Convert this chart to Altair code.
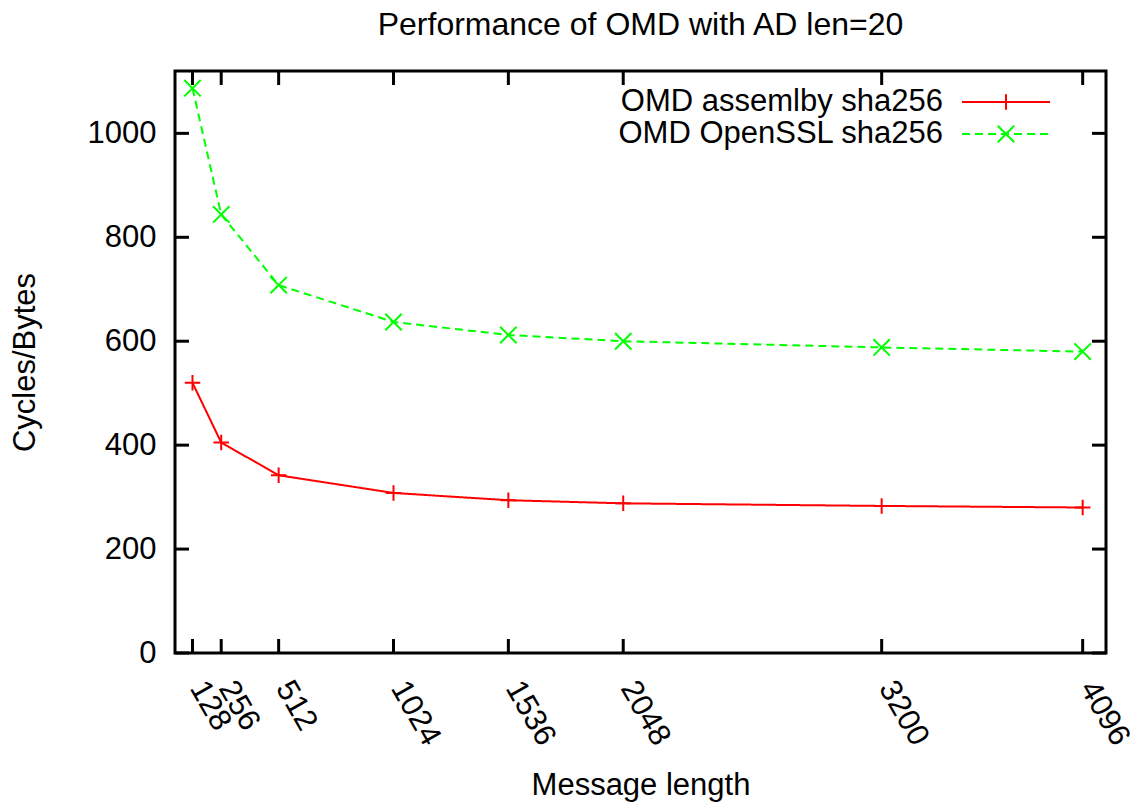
import altair as alt
import pandas as pd

# ---- data ----
sizes = [128, 256, 512, 1024, 1536, 2048, 3200, 4096]
asm_vals = [520, 405, 342, 308, 294, 288, 283, 280]
ssl_vals = [1087, 844, 708, 637, 612, 600, 588, 580]
series_names = ["OMD assemlby sha256", "OMD OpenSSL sha256"]
series_colors = ["#ff0000", "#00ff00"]
y_ticks = [0, 200, 400, 600, 800, 1000]
x_domain = [50, 4200]
y_domain = [0, 1120]
chart_title = "Performance of OMD with AD len=20"

# ---- layout / style ----
W, H = 931, 582
FONT = "Liberation Sans"
FS = 31
TICK = 14
PLUS = "M-1,0L1,0M0,-1L0,1"
CROSS = "M-1,-1L1,1M-1,1L1,-1"
dashes = [[1, 0], [8, 5]]
shapes = [PLUS, CROSS]
msizes = [240, 270]

df = pd.DataFrame({
    "size": sizes * 2,
    "value": asm_vals + ssl_vals,
    "series": [series_names[0]] * len(sizes) + [series_names[1]] * len(sizes),
})
xt = pd.DataFrame({"t": sizes})
yt = pd.DataFrame({"t": y_ticks})

xscale = alt.Scale(domain=x_domain, nice=False, zero=False)
yscale = alt.Scale(domain=y_domain, nice=False, zero=False)

x_axis = alt.Axis(
    values=sizes, format="d", title="Message length", labelAngle=60, labelAlign="left",
    labelBaseline="middle", labelPadding=30, labelOffset=4, ticks=False, domain=False, grid=False,
    labelOverlap=False, labelFlush=False, labelBound=False,
    labelFont=FONT, labelFontSize=FS, labelColor="black",
    titleFont=FONT, titleFontSize=FS, titleFontWeight="normal", titleColor="black",
    titleX=W / 2, titleY=141, titleBaseline="alphabetic", titleAlign="center",
)
y_axis = alt.Axis(
    values=y_ticks, format="d", title="Cycles/Bytes", ticks=False, domain=False, grid=False,
    labelPadding=19, labelOverlap=False, labelFlush=False,
    labelFont=FONT, labelFontSize=FS, labelColor="black",
    titleFont=FONT, titleFontSize=FS, titleFontWeight="normal", titleColor="black",
    titleX=-141, titleY=H / 2, titleAngle=-90, titleBaseline="alphabetic", titleAlign="center",
)

X = alt.X("size:Q", scale=xscale, axis=x_axis)
Y = alt.Y("value:Q", scale=yscale, axis=y_axis)

layers = []

# inward ticks (mirrored on all four sides)
tx = alt.X("t:Q", scale=xscale, axis=x_axis)
ty = alt.Y("t:Q", scale=yscale, axis=y_axis)
layers.append(alt.Chart(xt).mark_rule(color="black", strokeWidth=3).encode(x=tx, y=alt.value(H - TICK), y2=alt.value(H)))
layers.append(alt.Chart(xt).mark_rule(color="black", strokeWidth=3).encode(x=tx, y=alt.value(0), y2=alt.value(TICK)))
layers.append(alt.Chart(yt).mark_rule(color="black", strokeWidth=3).encode(y=ty, x=alt.value(0), x2=alt.value(TICK)))
layers.append(alt.Chart(yt).mark_rule(color="black", strokeWidth=3).encode(y=ty, x=alt.value(W - TICK), x2=alt.value(W)))

for i, name in enumerate(series_names):
    base = alt.Chart(df).transform_filter(alt.datum.series == name)
    layers.append(base.mark_line(color=series_colors[i], strokeWidth=2, strokeDash=dashes[i]).encode(x=X, y=Y))
    layers.append(base.mark_point(shape=shapes[i], size=msizes[i], filled=False, color=series_colors[i],
                                  strokeWidth=2, opacity=1).encode(x=X, y=Y))

# gnuplot-style key (text then sample)
for i, name in enumerate(series_names):
    ly = 31 + 32 * i
    ldf = pd.DataFrame({"label": [name]})
    layers.append(alt.Chart(ldf).mark_text(align="right", baseline="middle", font=FONT, fontSize=FS, color="black")
                  .encode(text="label:N", x=alt.value(768), y=alt.value(ly)))
    layers.append(alt.Chart(ldf).mark_rule(color=series_colors[i], strokeWidth=2, strokeDash=dashes[i])
                  .encode(x=alt.value(787), x2=alt.value(875), y=alt.value(ly)))
    layers.append(alt.Chart(ldf).mark_point(shape=shapes[i], size=msizes[i], filled=False, color=series_colors[i],
                                            strokeWidth=2, opacity=1)
                  .encode(x=alt.value(831), y=alt.value(ly)))

# title as text above the frame
tdf = pd.DataFrame({"label": [chart_title]})
layers.append(alt.Chart(tdf).mark_text(align="center", baseline="alphabetic", font=FONT, fontSize=32, color="black")
              .encode(text="label:N", x=alt.value(W / 2), y=alt.value(-36)))

chart = alt.layer(*layers).properties(
    width=W, height=H,
    background="white",
    autosize=alt.AutoSizeParams(type="none"),
    padding={"left": 167, "top": 63, "right": 26, "bottom": 156},
).configure_view(stroke="black", strokeWidth=3)

chart.save("out.html", embed_options={"renderer": "svg", "actions": False})
